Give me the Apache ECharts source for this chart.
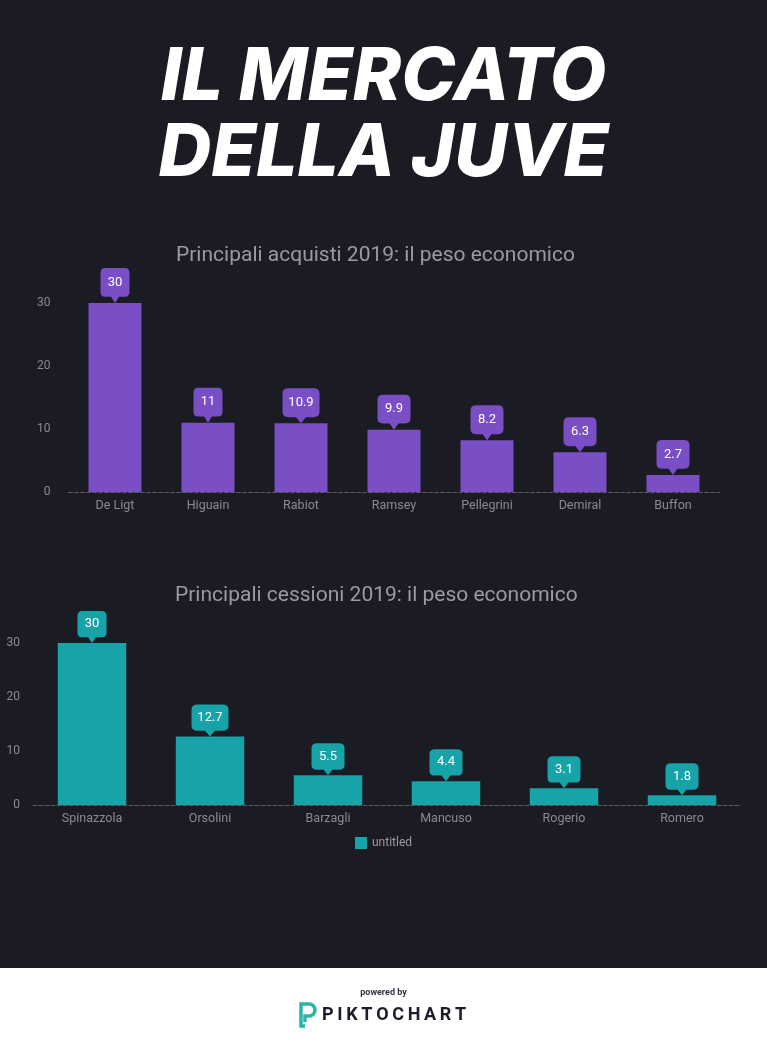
<!DOCTYPE html>
<html>
<head>
<meta charset="utf-8">
<script src="https://cdn.jsdelivr.net/npm/echarts@6/dist/echarts.min.js"></script>
<style>
html,body{margin:0;padding:0;background:#1b1b23;}
#c{width:767px;height:1046px;}
</style>
</head>
<body>
<div id="c"></div>
<script>
const buyNames = ['De Ligt', 'Higuain', 'Rabiot', 'Ramsey', 'Pellegrini', 'Demiral', 'Buffon'];
const buyValues = [30, 11, 10.9, 9.9, 8.2, 6.3, 2.7];
const sellNames = ['Spinazzola', 'Orsolini', 'Barzagli', 'Mancuso', 'Rogerio', 'Romero'];
const sellValues = [30, 12.7, 5.5, 4.4, 3.1, 1.8];
const yTicks = [0, 10, 20, 30];

const PURPLE = '#7a4fc6';
const TEAL = '#17a3a8';
const BG = '#1b1b23';
const calloutPath = 'path://M5,0 H25 Q30,0 30,5 V23 Q30,28 25,28 H19 L15,34 L11,28 H5 Q0,28 0,23 V5 Q0,0 5,0 Z';

function calloutSizer(h) {
  return function (v) {
    const n = String(v).length;
    return [n <= 1 ? 26 : n === 2 ? 29 : n === 3 ? 33 : 37, h];
  };
}

const chart = echarts.init(document.getElementById('c'), null, {renderer: 'canvas'});

const yAxisCommon = {
  type: 'value', min: yTicks[0], max: yTicks[yTicks.length - 1], interval: 10,
  axisLine: {show: false}, axisTick: {show: false}, splitLine: {show: false},
  axisLabel: {color: '#8a8a90', fontSize: 12, fontFamily: 'Roboto'}
};
const xAxisCommon = {
  type: 'category',
  axisTick: {show: false},
  axisLine: {show: true, lineStyle: {color: '#5a5a62', type: 'dashed', width: 1}},
  axisLabel: {color: '#8a8a90', fontSize: 12.5, fontFamily: 'Roboto', margin: 7}
};

function labelSeries(name, axis, values, color, h) {
  return {
    name: name, type: 'scatter', xAxisIndex: axis, yAxisIndex: axis, data: values, z: 5,
    symbol: calloutPath, symbolSize: calloutSizer(h), symbolOffset: [0, -h / 2], symbolKeepAspect: false,
    itemStyle: {color: color, opacity: 1},
    label: {show: true, position: 'inside', offset: [0, -3], color: '#ffffff', fontSize: 13, fontWeight: 'normal', fontFamily: 'Roboto', formatter: p => String(p.value)}
  };
}

const option = {
  backgroundColor: BG,
  animation: false,
  graphic: [
    {type: 'text', left: 'center', top: 42, style: {text: 'IL MERCATO', fill: '#ffffff', font: 'italic 800 73px Inter'}},
    {type: 'text', left: 'center', top: 118, style: {text: 'DELLA JUVE', fill: '#ffffff', font: 'italic 800 73px Inter'}},
    {type: 'text', left: 176, top: 245, style: {text: 'Principali acquisti 2019: il peso economico', fill: '#9a9aa0', font: '21px Roboto'}},
    {type: 'text', left: 175, top: 585, style: {text: 'Principali cessioni 2019: il peso economico', fill: '#9a9aa0', font: '21px Roboto'}},
    {type: 'rect', shape: {x: 0, y: 968, width: 767, height: 78}, style: {fill: '#ffffff'}},
    {type: 'text', left: 'center', top: 988, style: {text: 'powered by', fill: '#333340', font: 'bold 9px Roboto'}},
    {type: 'text', left: 322, top: 1006, style: {text: 'P\u2009I\u2009K\u2009T\u2009O\u2009C\u2009H\u2009A\u2009R\u2009T', fill: '#1c1c2a', font: 'bold 18px Roboto'}},
    {type: 'polyline', shape: {points: [[305, 1026], [301, 1026], [301, 1004], [309, 1004]]}, style: {stroke: '#2bb5a5', lineWidth: 3.5, fill: null}},
    {type: 'polyline', shape: {points: [[309, 1016], [305, 1016], [305, 1022]]}, style: {stroke: '#2bb5a5', lineWidth: 3.5, fill: null}},
    {type: 'arc', shape: {cx: 309, cy: 1010, r: 6, startAngle: -Math.PI / 2, endAngle: Math.PI / 2, clockwise: true}, style: {stroke: '#2bb5a5', lineWidth: 3.5, fill: null}}
  ],
  legend: {
    data: ['untitled'], top: 832, left: 'center', icon: 'rect', itemWidth: 12, itemHeight: 12, itemGap: 6,
    textStyle: {color: '#9a9aa0', fontSize: 12, fontFamily: 'Roboto'}
  },
  grid: [
    {left: 68.5, width: 651, top: 303, height: 189},
    {left: 33, width: 708, top: 643, height: 162}
  ],
  xAxis: [
    Object.assign({}, xAxisCommon, {gridIndex: 0, data: buyNames}),
    Object.assign({}, xAxisCommon, {gridIndex: 1, data: sellNames})
  ],
  yAxis: [
    Object.assign({}, yAxisCommon, {gridIndex: 0, axisLabel: Object.assign({}, yAxisCommon.axisLabel, {margin: 18})}),
    Object.assign({}, yAxisCommon, {gridIndex: 1, axisLabel: Object.assign({}, yAxisCommon.axisLabel, {margin: 13})})
  ],
  series: [
    {name: 'acquisti', type: 'bar', xAxisIndex: 0, yAxisIndex: 0, data: buyValues, barWidth: '57%', itemStyle: {color: PURPLE}},
    labelSeries('acquisti-label', 0, buyValues, PURPLE, 35),
    {name: 'untitled', type: 'bar', xAxisIndex: 1, yAxisIndex: 1, data: sellValues, barWidth: '58%', itemStyle: {color: TEAL}},
    labelSeries('cessioni-label', 1, sellValues, TEAL, 32)
  ]
};
chart.setOption(option);
</script>
</body>
</html>
